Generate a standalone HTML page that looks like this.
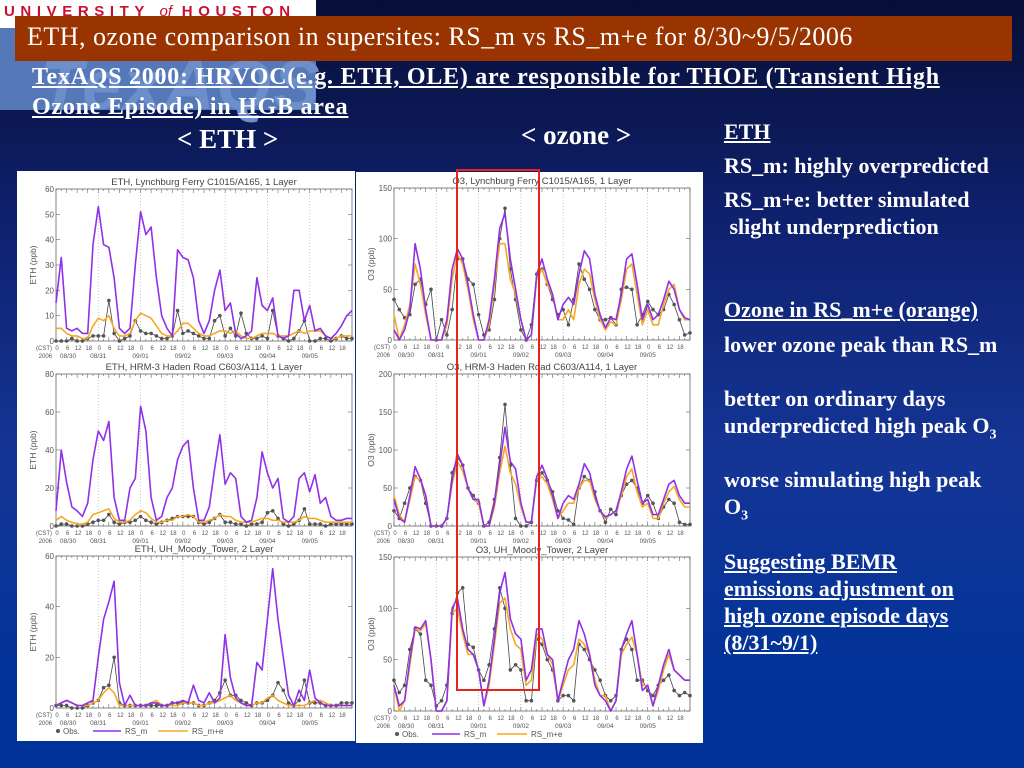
<!DOCTYPE html>
<html><head><meta charset="utf-8">
<style>
*{margin:0;padding:0;box-sizing:border-box}
body{width:1024px;height:768px;overflow:hidden;position:relative;font-family:"Liberation Serif",serif;
background:linear-gradient(180deg,#070e36 0%,#0f2270 30%,#143596 60%,#003399 90%,#003399 100%)}
.abs{position:absolute}
#logo{left:0;top:0;width:316px;height:110px;background:#5478b8}
#logo-top{left:0;top:0;width:316px;height:28px;background:#fff}
#logo-txt{left:4px;top:3px;font:bold 15px "Liberation Sans",sans-serif;letter-spacing:5.6px;color:#c8102e;white-space:nowrap}
#wm{left:40px;top:45px;font:italic bold 70px "Liberation Sans",sans-serif;color:#6c8ecb;letter-spacing:2px}
#titlebar{left:15px;top:16px;width:997px;height:45px;background:#993300;color:#fff;font-size:26px;letter-spacing:0.5px;padding:6px 0 0 12px;white-space:nowrap}
.sub{color:#fff;font-weight:bold;font-size:24px;letter-spacing:0.75px;text-decoration:underline;white-space:nowrap;left:32px}
.hd{color:#fff;font-weight:bold;font-size:27px;white-space:nowrap}
.rt{left:724px;color:#fff;font-weight:bold;font-size:22px;white-space:nowrap}
.u{text-decoration:underline}
#charts{left:0;top:0}
</style></head><body>
<div class="abs" id="logo">
 <div class="abs" id="logo-top"></div>
 <div class="abs" id="logo-txt">UNIVERSITY <span style="font-style:italic;font-weight:normal;letter-spacing:0">of</span> HOUSTON</div>
 <div class="abs" id="wm">TexAQS</div>
</div>
<div class="abs" id="titlebar">ETH, ozone comparison in supersites: RS_m vs RS_m+e for 8/30~9/5/2006</div>
<div class="abs sub" style="top:64px">TexAQS 2000: HRVOC(e.g. ETH, OLE) are responsible for THOE (Transient High</div>
<div class="abs sub" style="top:94px">Ozone Episode) in HGB area</div>
<div class="abs hd" style="left:177px;top:124px">&lt; ETH &gt;</div>
<div class="abs hd" style="left:521px;top:120px">&lt; ozone &gt;</div>

<div class="abs rt u" style="top:119px">ETH</div>
<div class="abs rt" style="top:153px">RS_m: highly overpredicted</div>
<div class="abs rt" style="top:187px">RS_m+e: better simulated</div>
<div class="abs rt" style="top:214px">&nbsp;slight underprediction</div>
<div class="abs rt u" style="top:297px">Ozone in RS_m+e (orange)</div>
<div class="abs rt" style="top:332px">lower ozone peak than RS_m</div>
<div class="abs rt" style="top:386px">better on ordinary days</div>
<div class="abs rt" style="top:413px">underpredicted high peak O<sub style="font-size:14px">3</sub></div>
<div class="abs rt" style="top:467px">worse simulating high peak</div>
<div class="abs rt" style="top:494px">O<sub style="font-size:14px">3</sub></div>
<div class="abs rt u" style="top:549px">Suggesting BEMR</div>
<div class="abs rt u" style="top:576px">emissions adjustment on</div>
<div class="abs rt u" style="top:603px">high ozone episode days</div>
<div class="abs rt u" style="top:630px">(8/31~9/1)</div>

<svg class="abs" id="charts" width="1024" height="768"></svg>

<script>
const hours=[0,3,6,9,12,15,18,21,24,27,30,33,36,39,42,45,48,51,54,57,60,63,66,69,72,75,78,81,84,87,90,93,96,99,102,105,108,111,114,117,120,123,126,129,132,135,138,141,144,147,150,153,156,159,162,165,168];
const dayLabels=["08/30","08/31","09/01","09/02","09/03","09/04","09/05"];
const hourTicks=["0","6","12","18"];

const ethLynM=[15,33,5,4,5,3,3,38,53,38,37,25,5,3,5,30,51,42,45,25,10,5,2,36,33,32,25,8,3,8,20,28,12,15,3,1,2,4,25,14,12,17,2,1,2,20,20,8,14,4,5,2,1,3,6,10,12];
const ethLynE=[5,5,3,2,2,1,1,6,9,8,10,5,2,2,3,8,11,10,9,6,3,2,2,4,7,7,5,3,2,2,3,4,4,3,4,2,1,1,2,3,3,3,2,2,2,3,4,3,4,4,4,2,1,1,2,2,2];
const ethLynO=[0,0,0,1,0,0,1,2,2,2,16,3,0,1,2,8,4,3,3,2,1,1,2,12,3,4,3,2,1,1,8,10,2,5,2,11,3,1,1,2,1,12,2,1,0,1,4,8,0,0,1,1,0,1,2,1,1];

const o3LynM=[10,0,10,30,95,70,30,0,0,0,20,70,90,80,55,25,0,0,20,60,110,125,80,50,20,0,5,65,80,60,45,20,35,42,35,65,88,80,45,25,12,22,20,45,80,85,55,20,35,20,25,40,58,50,30,22,20];
const o3LynE=[25,0,15,35,75,55,25,0,0,0,15,60,85,75,50,20,0,0,15,55,95,95,60,45,20,0,5,60,70,55,45,20,20,30,20,55,70,65,40,20,10,18,15,40,70,75,45,15,30,15,15,35,50,55,30,20,20];
const o3LynO=[40,30,22,25,55,60,35,50,0,20,5,30,80,80,60,55,25,5,10,40,100,130,70,40,10,0,15,65,70,55,40,25,30,15,40,75,60,50,30,20,20,22,15,50,52,50,15,25,38,30,25,30,45,35,20,5,7];

const ethHadM=[8,40,23,10,8,5,12,35,50,45,55,15,3,3,20,25,63,50,15,3,5,15,20,35,42,45,20,3,3,10,30,48,22,28,25,5,2,3,15,39,28,20,25,4,2,5,25,28,18,27,12,15,5,3,3,4,4];
const ethHadE=[3,5,3,2,1,1,2,6,7,8,9,4,2,2,3,6,8,7,4,2,2,3,3,5,5,6,5,2,2,3,4,6,5,5,3,2,2,2,3,4,4,3,3,2,2,2,3,5,4,4,3,2,2,2,2,2,2];
const ethHadO=[0,1,1,0,0,0,1,2,3,3,6,2,1,2,2,3,5,3,2,1,2,3,4,5,5,5,5,2,1,2,4,6,2,2,1,1,0,1,1,2,7,8,4,1,0,1,3,9,1,1,1,0,1,1,1,1,1];

const o3HadM=[35,10,5,40,78,62,40,0,0,0,10,60,95,80,50,35,35,0,0,30,80,130,85,75,30,5,5,65,80,62,40,10,30,40,35,55,82,70,40,20,12,15,20,45,75,92,60,30,35,15,15,35,55,60,40,30,30];
const o3HadE=[40,15,5,35,65,60,40,0,0,0,10,55,85,72,50,35,30,0,0,25,70,105,70,55,25,5,5,60,65,55,35,10,20,30,30,50,60,60,35,20,10,15,20,40,65,75,45,25,30,10,10,30,45,52,35,25,25];
const o3HadO=[20,10,30,50,65,60,30,0,0,0,10,70,90,80,50,40,30,0,5,35,90,160,80,10,0,0,5,60,70,60,45,20,10,8,2,50,65,60,45,20,5,22,15,40,55,60,50,30,40,30,10,25,35,30,5,2,2];

const ethMooM=[1,2,3,2,1,1,2,3,20,35,42,50,10,1,5,1,1,1,2,2,1,1,2,2,3,2,9,3,2,6,2,4,29,12,4,2,1,1,18,15,35,55,35,20,5,1,7,3,15,4,2,1,1,1,1,1,1];
const ethMooE=[1,2,3,2,1,1,1,2,3,6,8,6,1,1,1,1,1,1,2,3,1,1,1,1,2,2,2,1,1,2,2,3,4,5,3,2,1,1,2,2,4,5,3,2,1,1,1,1,2,3,3,2,1,1,1,1,1];
const ethMooO=[1,1,1,0,0,0,1,2,3,8,9,20,2,1,1,1,1,1,1,1,1,1,2,2,2,2,2,1,1,2,3,6,11,5,5,3,2,1,2,2,3,5,10,7,2,1,3,11,2,2,2,1,1,1,2,2,2];

const o3MooM=[25,5,10,50,82,80,88,50,0,0,10,100,110,80,60,55,40,5,30,70,115,135,90,75,70,30,40,80,80,55,50,10,30,50,60,88,75,55,25,15,10,0,10,60,75,88,55,20,25,5,25,45,60,40,35,30,30];
const o3MooE=[25,0,10,45,80,78,85,50,0,0,10,95,100,75,55,55,40,5,25,65,105,110,80,65,60,25,30,75,70,55,45,10,25,40,45,70,65,55,30,15,15,0,10,55,65,72,55,25,25,5,20,40,55,40,35,30,30];
const o3MooO=[30,18,25,60,80,75,30,25,5,10,25,95,115,120,65,62,40,30,45,80,120,100,40,45,40,10,10,70,65,50,40,10,15,15,10,65,60,50,40,30,15,10,15,60,70,60,30,30,20,15,25,30,35,20,15,18,15];

const ethYTicks60=[0,10,20,30,40,50,60];
const ethYTicks60b=[0,20,40,60];
const ethYTicks80=[0,20,40,60,80];
const o3YTicks150=[0,50,100,150];
const o3YTicks200=[0,50,100,150,200];

const PURPLE="#9030e8",ORANGE="#f7a823",OBS="#444";
const NS="http://www.w3.org/2000/svg";
const svg=document.getElementById('charts');
function el(tag,attrs,parent){const e=document.createElementNS(NS,tag);for(const k in attrs)e.setAttribute(k,attrs[k]);(parent||svg).appendChild(e);return e;}

const p1=el('rect',{x:17,y:171,width:338,height:570,fill:'#fff'});


const p2=el('rect',{x:356,y:172,width:347,height:571,fill:'#fff'});



function chart(cfg){
  const g=el('g',{});
  
  
  const [x0,y0,x1,y1]=cfg.box;
  const ymax=cfg.yticks[cfg.yticks.length-1];
  const X=h=>x0+h/168*(x1-x0);
  const Y=v=>y1-Math.max(0,Math.min(v,ymax))/ymax*(y1-y0);
  for(let d=1;d<7;d++){
    const l=el('line',{x1:X(d*24),x2:X(d*24),y1:y0,y2:y1,stroke:'#bbb','stroke-width':0.8,'stroke-dasharray':'1,2'},g);
    
    
  }
  for(let h=0;h<=168;h+=3){
    const len=h%6==0?4:2;
    el('line',{x1:X(h),x2:X(h),y1:y1,y2:y1-len,stroke:'#666','stroke-width':0.6},g);
    el('line',{x1:X(h),x2:X(h),y1:y0,y2:y0+len,stroke:'#666','stroke-width':0.6},g);
  }
  const frame=el('rect',{x:x0,y:y0,width:x1-x0,height:y1-y0,fill:'none',stroke:'#666','stroke-width':0.8},g);
  
  
  const t=el('text',{x:(x0+x1)/2,y:y0-4,'text-anchor':'middle','font-size':9.5,'font-family':'Liberation Sans, sans-serif',fill:'#444'},g);
  t.textContent=cfg.title;
  
  
  cfg.yticks.forEach(v=>{
    el('line',{x1:x0,x2:x0+4,y1:Y(v),y2:Y(v),stroke:'#666','stroke-width':0.6},g);
    el('line',{x1:x1,x2:x1-4,y1:Y(v),y2:Y(v),stroke:'#666','stroke-width':0.6},g);
    const tl=el('text',{x:x0-2,y:Y(v)+3,'text-anchor':'end','font-size':8,'font-family':'Liberation Sans, sans-serif',fill:'#555'},g);
    tl.textContent=v;
    
    
  });
  const yl=el('text',{x:x0-20,y:(y0+y1)/2,'text-anchor':'middle','font-size':8.5,'font-family':'Liberation Sans, sans-serif',fill:'#555',transform:`rotate(-90 ${x0-20} ${(y0+y1)/2})`},g);
  yl.textContent=cfg.ylabel;
  
  
  const xs=el('text',{x:x0-4,y:y1+9,'text-anchor':'end','font-size':6,'font-family':'Liberation Sans, sans-serif',fill:'#555'},g);
  xs.textContent='(CST)';
  const xs2=el('text',{x:x0-4,y:y1+17,'text-anchor':'end','font-size':6,'font-family':'Liberation Sans, sans-serif',fill:'#555'},g);
  xs2.textContent='2006';
  for(let d=0;d<7;d++){
    hourTicks.forEach((lab,i)=>{
      const tx=el('text',{x:X(d*24+i*6)+1,y:y1+9,'text-anchor':'middle','font-size':6,'font-family':'Liberation Sans, sans-serif',fill:'#555'},g);
      tx.textContent=lab;
      
      
    });
    const dl=el('text',{x:X(d*24)+(d==0?12:0),y:y1+17,'text-anchor':'middle','font-size':6.5,'font-family':'Liberation Sans, sans-serif',fill:'#555'},g);
    dl.textContent=dayLabels[d];
    
    
  }
  function line(vals,color,w,name){
    const pts=vals.map((v,i)=>X(hours[i]).toFixed(1)+','+Y(v).toFixed(1)).join(' ');
    const pl=el('polyline',{points:pts,fill:'none',stroke:color,'stroke-width':w,'stroke-linejoin':'round'},g);
    
    
  }
  line(cfg.o,OBS,0.8,'obs-line');
  cfg.o.forEach((v,i)=>{
    const c=el('circle',{cx:X(hours[i]),cy:Y(v),r:1.8,fill:'#555'},g);
    
    
  });
  line(cfg.e,ORANGE,1.6,'rs-m-e-line');
  line(cfg.m,PURPLE,1.6,'rs-m-line');
  if(cfg.legend){
    const ly=y1+25, lx=cfg.legend;
    const lg=el('g',{},g);
    
    
    const d1=el('circle',{cx:lx,cy:ly-2,r:2,fill:'#555'},lg);
    
    
    const t1=el('text',{x:lx+5,y:ly+1,'font-size':8,'font-family':'Liberation Sans, sans-serif',fill:'#555'},lg);t1.textContent='Obs.';
    
    
    el('line',{x1:lx+35,x2:lx+63,y1:ly-2,y2:ly-2,stroke:PURPLE,'stroke-width':1.6},lg);
    const t2=el('text',{x:lx+67,y:ly+1,'font-size':8,'font-family':'Liberation Sans, sans-serif',fill:'#555'},lg);t2.textContent='RS_m';
    
    
    el('line',{x1:lx+100,x2:lx+130,y1:ly-2,y2:ly-2,stroke:ORANGE,'stroke-width':1.6},lg);
    const t3=el('text',{x:lx+134,y:ly+1,'font-size':8,'font-family':'Liberation Sans, sans-serif',fill:'#555'},lg);t3.textContent='RS_m+e';
    
    
  }
}

chart({name:'eth-lynchburg-chart',title:'ETH, Lynchburg Ferry C1015/A165, 1 Layer',ylabel:'ETH (ppb)',yticks:ethYTicks60,box:[56,189,352,341],m:ethLynM,e:ethLynE,o:ethLynO});
chart({name:'eth-haden-chart',title:'ETH, HRM-3 Haden Road C603/A114, 1 Layer',ylabel:'ETH (ppb)',yticks:ethYTicks80,box:[56,374,352,526],m:ethHadM,e:ethHadE,o:ethHadO});
chart({name:'eth-moody-chart',title:'ETH, UH_Moody_Tower, 2 Layer',ylabel:'ETH (ppb)',yticks:ethYTicks60b,box:[56,556,352,708],m:ethMooM,e:ethMooE,o:ethMooO,legend:58});
chart({name:'o3-lynchburg-chart',title:'O3, Lynchburg Ferry C1015/A165, 1 Layer',ylabel:'O3 (ppb)',yticks:o3YTicks150,box:[394,188,690,340],m:o3LynM,e:o3LynE,o:o3LynO});
chart({name:'o3-haden-chart',title:'O3, HRM-3 Haden Road C603/A114, 1 Layer',ylabel:'O3 (ppb)',yticks:o3YTicks200,box:[394,374,690,526],m:o3HadM,e:o3HadE,o:o3HadO});
chart({name:'o3-moody-chart',title:'O3, UH_Moody_Tower, 2 Layer',ylabel:'O3 (ppb)',yticks:o3YTicks150,box:[394,557,690,711],m:o3MooM,e:o3MooE,o:o3MooO,legend:397});

const hl=el('rect',{x:457,y:170,width:82,height:520,fill:'none',stroke:'#e8221c','stroke-width':2});


</script>
</body></html>
